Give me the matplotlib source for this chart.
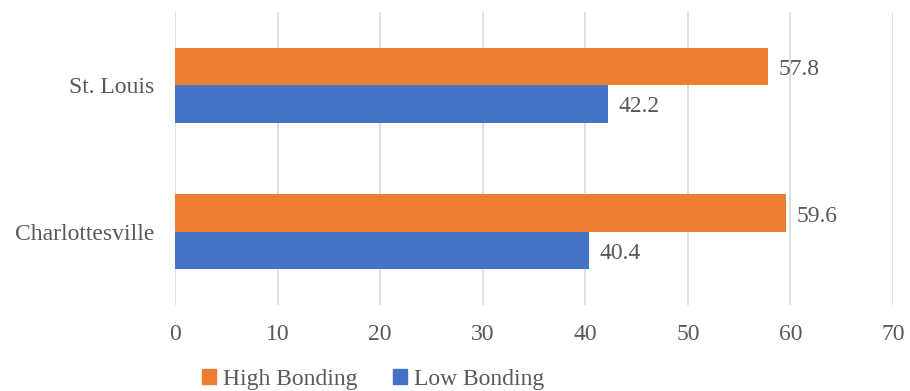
import numpy as np
import matplotlib
matplotlib.use("Agg")
import matplotlib.pyplot as plt
from matplotlib.patches import Patch

cities = ["Charlottesville", "St. Louis"]
high_bonding = [59.6, 57.8]
low_bonding = [40.4, 42.2]

orange = "#ED7D31"
blue = "#4472C4"
grey_text = "#595959"

plt.rcParams["font.family"] = ["Liberation Serif", "DejaVu Serif"]

fig = plt.figure(figsize=(9.10, 3.91), dpi=100)
ax = fig.add_axes([175/910, 1 - 305/391, (893-175)/910, (305-12)/391])

y = np.arange(len(cities))
h = 0.255
ax.barh(y + h/2, high_bonding, height=h, color=orange, zorder=3)
ax.barh(y - h/2, low_bonding, height=h, color=blue, zorder=3)

for yi, v in zip(y, high_bonding):
    ax.text(v + 1.0, yi + h/2 - 0.02, "%.1f" % v, va="center", ha="left",
            fontsize=17, color=grey_text)
for yi, v in zip(y, low_bonding):
    ax.text(v + 1.0, yi - h/2 - 0.02, "%.1f" % v, va="center", ha="left",
            fontsize=17, color=grey_text)

ax.set_xlim(0, 70)
ax.set_ylim(-0.5, 1.5)
ax.set_xticks(np.arange(0, 71, 10))
ax.set_yticks(y)
ax.set_yticklabels(cities)
ax.grid(axis="x", color="#D9D9D9", linewidth=1.2, zorder=0)
for s in ax.spines.values():
    s.set_visible(False)
ax.tick_params(axis="both", length=0, labelsize=17, labelcolor=grey_text)
ax.tick_params(axis="x", pad=14)
ax.tick_params(axis="y", pad=15)

handles = [Patch(color=orange, label="High Bonding"),
           Patch(color=blue, label="Low Bonding")]
fig.legend(handles=handles, loc="center", bbox_to_anchor=(373/910, 1 - 379/391),
           ncol=2, frameon=False, fontsize=17, labelcolor=grey_text,
           handlelength=0.6, handleheight=0.6, handletextpad=0.3, columnspacing=1.5)

fig.savefig("out.png", dpi=100)
